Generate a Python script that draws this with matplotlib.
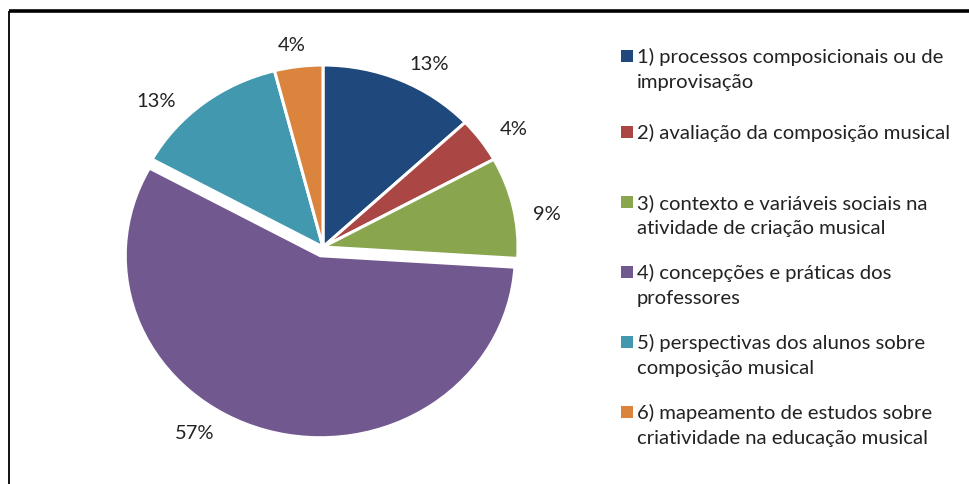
import matplotlib
matplotlib.use("Agg")
import matplotlib.pyplot as plt
from matplotlib.lines import Line2D
from matplotlib.patches import Rectangle

# Research themes and their share of the reviewed studies (%)
categories = [
    "1) processos composicionais ou de\nimprovisação",
    "2) avaliação da composição musical",
    "3) contexto e variáveis sociais na\natividade de criação musical",
    "4) concepções e práticas dos\nprofessores",
    "5) perspectivas dos alunos sobre\ncomposição musical",
    "6) mapeamento de estudos sobre\ncriatividade na educação musical",
]
shares = [13, 4, 9, 57, 13, 4]

# Styling / layout
colors = ["#1F497D", "#AA4643", "#89A54E", "#71588F", "#4198AF", "#DB843D"]
explode = [0, 0, 0, 0.05, 0, 0]
label_xy = [(0.545, 1.010), (0.980, 0.652), (1.150, 0.182),
            (-0.660, -1.017), (-0.857, 0.807), (-0.160, 1.115)]
legend_y = [57, 133, 203, 273, 343, 413]   # px from top, first line of each entry
line_step = 26
FONT = "Lato"
TXT = "#222222"

W, H = 969, 485
fig = plt.figure(figsize=(W / 100, H / 100), dpi=100)
fig.patch.set_facecolor("white")

# pie centre and radii in pixels
cx, cy, rx, ry = 323, 248, 195, 182
ax = fig.add_axes([(cx - 1.25 * rx) / W, (H - cy - 1.25 * ry) / H,
                   2.5 * rx / W, 2.5 * ry / H])
ax.pie(shares, colors=colors, startangle=90, counterclock=False,
       explode=explode, wedgeprops=dict(edgecolor="white", linewidth=2.2))
ax.set_aspect("auto")
ax.set_xlim(-1.25, 1.25)
ax.set_ylim(-1.25, 1.25)
ax.axis("off")

for v, (x, y) in zip(shares, label_xy):
    ax.text(x, y, f"{v}%", ha="center", va="center", fontsize=14.5,
            family=FONT, color=TXT)

# legend
sq = 12
for cat, col, y0 in zip(categories, colors, legend_y):
    fig.add_artist(Rectangle((621 / W, (H - y0 - sq / 2) / H), sq / W, sq / H,
                             transform=fig.transFigure, facecolor=col,
                             edgecolor="none"))
    for k, line in enumerate(cat.split("\n")):
        fig.text(637 / W, (H - (y0 + k * line_step)) / H, line,
                 ha="left", va="center", fontsize=14.6, family=FONT, color=TXT)

# outer frame: heavy top rule and thin left rule
fig.add_artist(Line2D([9 / W, 1.0], [(H - 12) / H] * 2, color="black",
                      linewidth=2.6, transform=fig.transFigure,
                      solid_capstyle="butt"))
fig.add_artist(Line2D([9 / W] * 2, [0, (H - 12) / H], color="black",
                      linewidth=1.3, transform=fig.transFigure,
                      solid_capstyle="butt"))

fig.savefig("out.png", dpi=100, facecolor="white")
